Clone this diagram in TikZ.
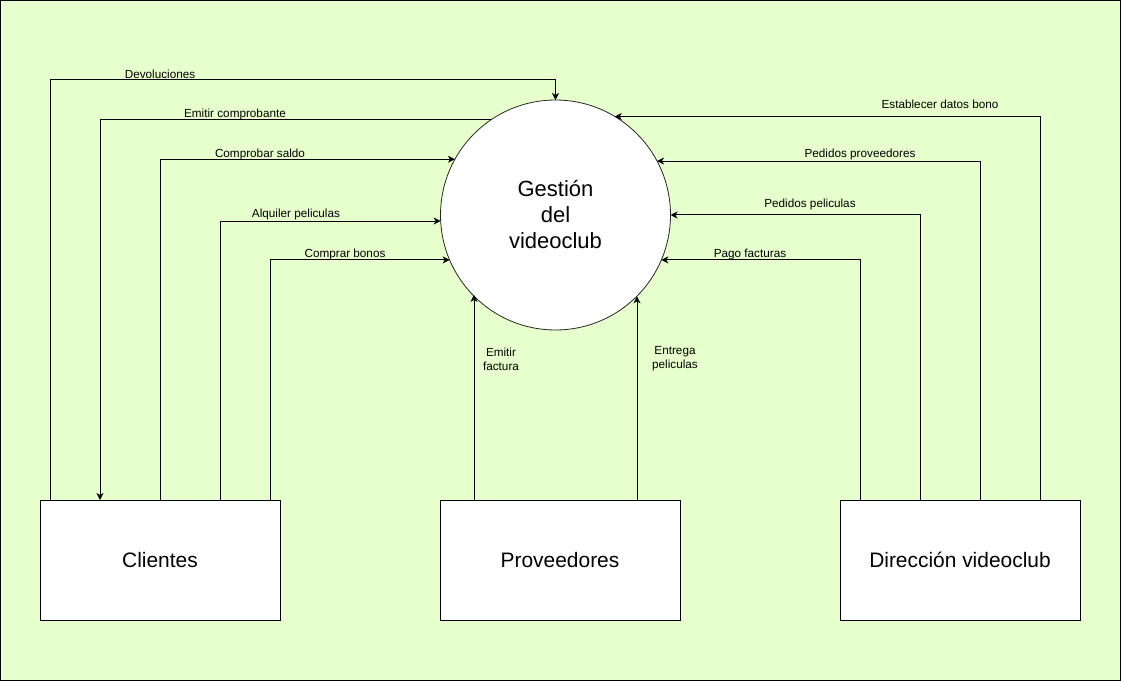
\documentclass[tikz,border=0pt]{standalone}
\usepackage{fontspec}
\setmainfont{Liberation Sans}
\usetikzlibrary{arrows.meta,calc}
\definecolor{bgc}{HTML}{E6FFCC}
\begin{document}
\begin{tikzpicture}[x=0.75pt,y=-0.75pt,
  flow/.style={draw=black, line width=0.75pt, -{Stealth[length=5.25pt,width=5.25pt,inset=1.5pt]}},
  ent/.style={draw=black, fill=white, line width=0.75pt, minimum width=180pt, minimum height=90pt, inner sep=0pt, outer sep=0pt, font=\fontsize{15.7}{18}\selectfont},
  proc/.style={circle, draw=black!85, fill=white, line width=0.6pt, minimum size=172.5pt, inner sep=0pt, outer sep=0pt, align=center, font=\fontsize{16.5}{19.5}\selectfont},
  lbl/.style={font=\fontsize{8.8}{10.7}\selectfont, inner sep=0pt, align=center}]
\useasboundingbox (0,0) rectangle (1121,681);
\fill[bgc] (0,0) rectangle (1121,681);
\draw[black, line width=0.75pt] (0.5,0.5) rectangle (1120.5,680.5);

\node[proc] (g) at (555.5,215) {Gestión\\del\\videoclub};
\node[ent] (cl) at (160,560) {Clientes};
\node[ent] (pv) at (560,560) {Proveedores};
\node[ent] (dv) at (960,560) {Dirección videoclub};

% Clientes
\draw[flow] ($(cl.north)+(-110,0)$) |- ($(g.north)+(0,-20)$) -- (g.north);
\draw[flow] (g.124.6) -| ($(cl.north)+(-60,0)$);
\draw[flow] (cl.north) |- (g.151.4);
\draw[flow] ($(cl.north)+(60,0)$) |- (g.183.0);
\draw[flow] ($(cl.north)+(110,0)$) |- (g.203.0);

% Proveedores
\coordinate (pa) at ($(pv.north)+(-86,0)$);
\coordinate (pb) at ($(pv.north)+(77,0)$);
\draw[flow] (pa) -- (pa |- g.224.9);
\draw[flow] (pb) -- (pb |- g.315.1);

% Direccion
\draw[flow] ($(dv.north)+(80,0)$) |- (g.59.4);
\draw[flow] ($(dv.north)+(20,0)$) |- (g.28.6);
\draw[flow] ($(dv.north)+(-40,0)$) |- (g.0);
\draw[flow] ($(dv.north)+(-100,0)$) |- (g.337.0);

% labels
\node[lbl] (l1) at (160,74) {Devoluciones};
\node[lbl] (l2) at (235,114) {Emitir comprobante};
\node[lbl] (l3) at (260,154) {Comprobar saldo};
\node[lbl] (l4) at (296,214) {Alquiler peliculas};
\node[lbl] (l5) at (345,254) {Comprar bonos};
\node[lbl] (l6) at (501,359) {Emitir\\factura};
\node[lbl] (l7) at (675,359) {Entrega\\peliculas};
\node[lbl] (l8) at (940,104) {Establecer datos bono};
\node[lbl] (l9) at (860,154) {Pedidos proveedores};
\node[lbl] (l10) at (810,204) {Pedidos peliculas};
\node[lbl] (l11) at (750,254) {Pago facturas};
\end{tikzpicture}
\end{document}
